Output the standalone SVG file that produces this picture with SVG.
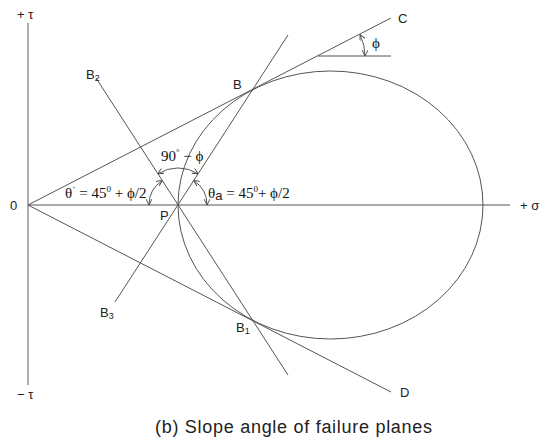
<svg xmlns="http://www.w3.org/2000/svg" width="548" height="441" viewBox="0 0 548 441">
<style>
.ax{stroke:#8a8a8a;stroke-width:1.4;fill:none}
.ln{stroke:#555;stroke-width:1;fill:none}
.arc{stroke:#444;stroke-width:0.9;fill:none;marker-start:url(#ah);marker-end:url(#ah)}
.lb{font-family:"Liberation Sans",Arial,sans-serif;font-size:13px;fill:#222}
.sub{font-size:9px}
.mt{font-family:"Liberation Serif","Times New Roman",serif;font-size:15px;fill:#111}
.cap{font-family:"Liberation Sans",Arial,sans-serif;font-size:18px;fill:#222}
</style>
<defs>
<marker id="ah" viewBox="0 0 6 6" refX="6" refY="3" markerWidth="6" markerHeight="6" orient="auto-start-reverse" markerUnits="userSpaceOnUse">
<path d="M0,0 L6,3 L0,6" fill="none" stroke="#444" stroke-width="0.9"/>
</marker>
</defs>
<g id="axes">
<line class="ax" x1="28" y1="23" x2="28" y2="385"/>
<line class="ln" x1="28" y1="205" x2="510" y2="205"/>
</g>
<g id="mohr-circle">
<ellipse class="ln" cx="330.5" cy="205" rx="152.5" ry="134"/>
</g>
<g id="connectors">
<line class="ln" x1="28" y1="205" x2="391" y2="18"/>
<line class="ln" x1="28" y1="205" x2="391" y2="392"/>
<line class="ln" x1="115" y1="302" x2="288" y2="35"/>
<line class="ln" x1="96" y1="78" x2="288" y2="375"/>
<line class="ln" x1="318" y1="56" x2="391" y2="56"/>
</g>
<g id="angles">
<path class="arc" d="M360,34.7 A47,47 0 0 1 365,56"/>
<path class="arc" d="M157.9,173.9 A37,37 0 0 1 198.1,173.9"/>
<path class="arc" d="M162.3,180.6 A29,29 0 0 0 149,205"/>
<path class="arc" d="M193.7,180.6 A29,29 0 0 1 207,205"/>
</g>
<g id="labels">
<text class="lb" x="17" y="19">+ τ</text>
<text class="lb" x="17" y="399">− τ</text>
<text class="lb" x="520" y="210">+ σ</text>
<text class="lb" x="10" y="210">0</text>
<text class="lb" x="160" y="220">P</text>
<text class="lb" x="233" y="89">B</text>
<text class="lb" x="86" y="79">B<tspan class="sub" dy="2">2</tspan></text>
<text class="lb" x="100" y="317">B<tspan class="sub" dy="2">3</tspan></text>
<text class="lb" x="236" y="332">B<tspan class="sub" dy="2">1</tspan></text>
<text class="lb" x="398" y="23">C</text>
<text class="lb" x="400" y="397">D</text>
<text class="mt" x="372" y="48">ϕ</text>
<text class="mt" x="161" y="161">90<tspan font-size="9" dy="-6">°</tspan><tspan dy="6"> − ϕ</tspan></text>
<text class="mt" x="65" y="198">θ<tspan font-size="10" dy="-7">·</tspan><tspan dy="7"> = 45</tspan><tspan font-size="9" dy="-6">0</tspan><tspan dy="6"> + ϕ/2</tspan></text>
<text class="mt" x="208" y="198">θ<tspan class="lb" font-size="10" dy="2">a</tspan><tspan dy="-2"> = 45</tspan><tspan font-size="9" dy="-6">0</tspan><tspan dy="6">+ ϕ/2</tspan></text>
</g>
<g id="caption">
<text class="cap" x="155" y="433" textLength="277" lengthAdjust="spacing">(b) Slope angle of failure planes</text>
</g>
</svg>
